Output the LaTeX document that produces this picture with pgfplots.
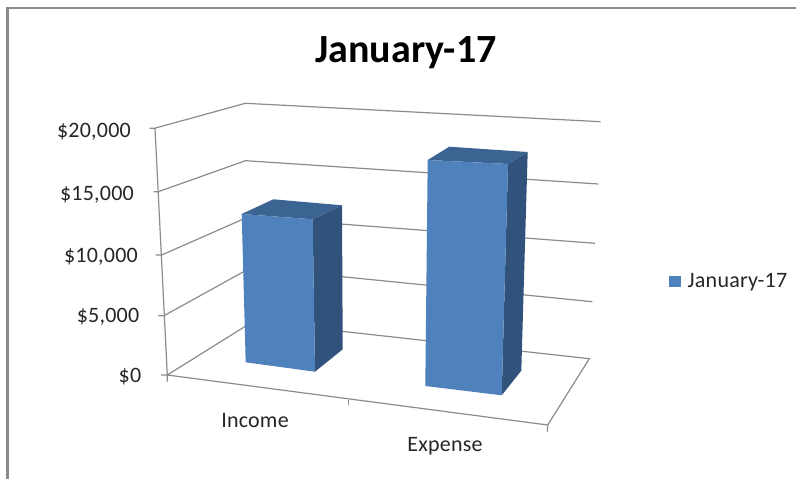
\documentclass[border=0pt]{standalone}
\usepackage{fontspec}
\setmainfont{Carlito}
\usepackage{pgfplots}
\pgfplotsset{compat=1.18}
\definecolor{frontc}{HTML}{4F81BD}
\definecolor{sidec}{HTML}{30527B}
\definecolor{topc}{HTML}{3B6492}
\definecolor{gridc}{HTML}{8C8C8C}
\definecolor{framec}{HTML}{8A8A8A}
\definecolor{txt}{HTML}{262626}
% Perspective view: all shapes are in the picture's own pixel frame.
% Bars read about Income $12,700 and Expense $17,800 on the $0-$20,000 scale.
\begin{document}
\begin{tikzpicture}
\begin{axis}[
  scale only axis, width=796pt, height=479pt,
  xmin=0, xmax=796, ymin=0, ymax=479, y dir=reverse,
  axis lines=none, clip=false,
  legend style={draw=none, fill=none, at={(0.8405,0.413)}, anchor=west,
    inner sep=0pt, outer sep=0pt, nodes={inner sep=0pt, outer sep=0pt}, font=\fontsize{22}{24}\selectfont\addfontfeature{LetterSpace=1}\color{txt}},
  legend image code/.code={\fill[#1] (0pt,-5.4pt) rectangle (11.7pt,5.4pt);},
]
% full canvas
\addplot[forget plot, draw=none, fill=white] coordinates {(0,0)(796,0)(796,479)(0,479)} -- cycle;
% picture frame
\addplot[forget plot, draw=none, fill=framec] coordinates {(6,7)(796,7)(796,9)(6,9)} -- cycle;
\addplot[forget plot, draw=none, fill=framec] coordinates {(6,7)(9,7)(9,479)(6,479)} -- cycle;
% left wall + back wall gridlines ($20,000 ... $0) with tick stubs
\pgfplotsset{grd/.style={forget plot, gridc, line width=1.2pt, no marks}}
\addplot[grd] coordinates {(149.5,128.3)(154.5,128.3)(245.3,103.3)(600.7,121.7)};
\addplot[grd] coordinates {(153.5,191.7)(158.3,191.7)(245.5,160.7)(598.3,184)};
\addplot[grd] coordinates {(155.7,255)(161.7,255)(248,217)(595,243.3)};
\addplot[grd] coordinates {(158.3,315.7)(164,315.7)(251,267.6)(592.3,301.7)};
% floor and vertical axis
\addplot[grd] coordinates {(161,375)(167.3,375)(253,321.5)(589.3,358.7)(547.7,425)(167.3,375)};
\addplot[grd] coordinates {(155,128.3)(167.3,375)(167.3,381.7)};
\addplot[grd] coordinates {(348.3,400)(348.3,405)};
\addplot[grd] coordinates {(547.7,425)(547.3,431.7)};
% Income bar
\addplot[forget plot, draw=none, fill=sidec] coordinates {(312.7,219.3)(342,205.3)(342.7,349.3)(315,371.7)} -- cycle;
\addplot[forget plot, draw=none, fill=topc] coordinates {(241.7,214)(273.3,199.3)(342,205.3)(312.7,219.3)} -- cycle;
\addplot[forget plot, draw=none, fill=frontc] coordinates {(241.7,214)(312.7,219.3)(315,371.7)(245.7,362.3)} -- cycle;
% Expense bar
\addplot[forget plot, draw=none, fill=sidec] coordinates {(508,164)(527.7,152)(521.3,370.7)(501.7,395.3)} -- cycle;
\addplot[forget plot, draw=none, fill=topc] coordinates {(427.7,160)(449.3,146.7)(527.7,152)(508,164)} -- cycle;
\addplot[draw=none, fill=frontc] coordinates {(427.7,160)(508,164)(501.7,395.3)(425.3,386)} -- cycle;
\addlegendentry{\hspace{7pt}January-17}
% texts
\node[font=\fontsize{40}{44}\bfseries\selectfont, text=black] at (axis cs:406,53) {January-17};
\begin{scope}[every node/.style={font=\fontsize{22}{24}\selectfont\addfontfeature{LetterSpace=1}, text=txt, inner sep=0pt}]
\node at (axis cs:94,131.5) {\$20,000};
\node at (axis cs:97,194.5) {\$15,000};
\node at (axis cs:101,256.5) {\$10,000};
\node at (axis cs:108,317) {\$5,000};
\node at (axis cs:130,376.5) {\$0};
\node at (axis cs:255,420.5) {Income};
\node at (axis cs:445,446.5) {Expense};
\end{scope}
\end{axis}
\end{tikzpicture}
\end{document}
